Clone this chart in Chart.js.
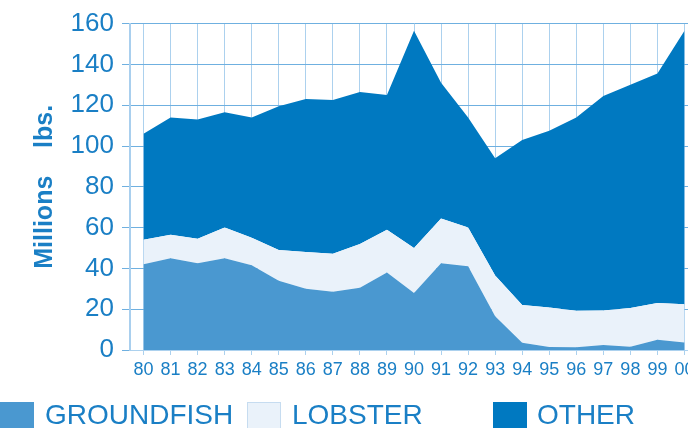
<!DOCTYPE html>
<html>
<head>
<meta charset="utf-8">
<script src="https://cdn.jsdelivr.net/npm/chart.js@4/dist/chart.umd.min.js"></script>
<style>
  html, body { margin: 0; padding: 0; overflow: hidden; background: #fff; }
  #wrap { position: relative; width: 688px; height: 428px; overflow: hidden; }
  #chart { position: absolute; left: 0; top: 0; }
  .key { position: absolute; top: 402px; width: 34px; height: 28px; box-sizing: border-box; }
  .lab { position: absolute; top: 399px; font: 28px "Liberation Sans", Arial, sans-serif; color: #1a7fc5; line-height: 32px; }
</style>
</head>
<body>
<div id="wrap">
  <canvas id="chart" width="700" height="428" style="width:700px;height:428px"></canvas>
  <div class="key" style="left:0;background:#4a98d0"></div>
  <div class="lab" style="left:45px">GROUNDFISH</div>
  <div class="key" style="left:247px;background:#eaf2fa;border:1px solid #c6dcf0"></div>
  <div class="lab" style="left:292px">LOBSTER</div>
  <div class="key" style="left:493px;background:#0079c1"></div>
  <div class="lab" style="left:537px">OTHER</div>
</div>
<script>
// years shown on the x axis
let years = ['80','81','82','83','84','85','86','87','88','89','90','91','92','93','94','95','96','97','98','99','00']

// millions of lbs, stacked from the bottom up
let groundfish = [42, 45, 42.5, 45, 41.5, 34, 30, 28.5, 30.5, 38, 28, 42.5, 41, 16.5, 3.5, 1.5, 1.3, 2.4, 1.6, 5, 3.7]
let lobster    = [12, 11.5, 12, 15, 13.5, 15, 18, 18.7, 21.5, 21, 22, 22, 19, 20, 18.5, 19.3, 18, 17, 19, 18, 18.7]
let other      = [52, 57.5, 58.5, 56.5, 59, 70.5, 75, 75.3, 74.5, 66, 106.5, 66.5, 54, 57.5, 81, 86.7, 94.7, 105.1, 109.4, 112.5, 134.1]

let yTicks = [0, 20, 40, 60, 80, 100, 120, 140, 160]

let blueText = '#1a7fc5'

function areaSet(label, data, color, fill) {
    return {
        label: label,
        data: data,
        backgroundColor: color,
        borderColor: color,
        borderWidth: 0,
        pointRadius: 0,
        tension: 0,
        fill: fill
    }
}

let ctx = document.getElementById('chart').getContext('2d')
new Chart(ctx, {
    type: 'line',
    data: {
        labels: years,
        datasets: [
            areaSet('GROUNDFISH', groundfish, '#4a98d0', 'origin'),
            areaSet('LOBSTER', lobster, '#eaf2fa', '-1'),
            areaSet('OTHER', other, '#0079c1', '-1')
        ]
    },
    options: {
        responsive: false,
        animation: false,
        layout: { padding: { left: 30, top: 22, right: 2, bottom: 0 } },
        plugins: { legend: { display: false }, tooltip: { enabled: false } },
        scales: {
            x: {
                offset: true,
                grid: { color: '#acd1ee', lineWidth: 1, tickLength: 5, offset: false },
                border: { color: '#acd1ee', width: 1 },
                ticks: {
                    color: blueText,
                    padding: 4,
                    maxRotation: 0,
                    autoSkip: false,
                    font: { family: 'Liberation Sans', size: 18 }
                },
                afterFit: function (scale) { scale.height = 78 }
            },
            y: {
                stacked: true,
                min: 0,
                max: 160,
                grid: { color: '#6fb0e0', lineWidth: 1, tickLength: 8 },
                border: { color: '#a9cfee', width: 2 },
                ticks: {
                    stepSize: 10,
                    color: blueText,
                    padding: 8,
                    font: { family: 'Liberation Sans', size: 26 },
                    callback: function (v) { return yTicks.indexOf(v) >= 0 ? String(v) : '' }
                },
                title: {
                    display: true,
                    text: 'Millions    lbs.',
                    color: blueText,
                    padding: 0,
                    font: { family: 'Liberation Sans', size: 25, weight: 'bold' }
                },
                afterFit: function (scale) { scale.width = 100 }
            }
        }
    }
})
</script>
</body>
</html>
